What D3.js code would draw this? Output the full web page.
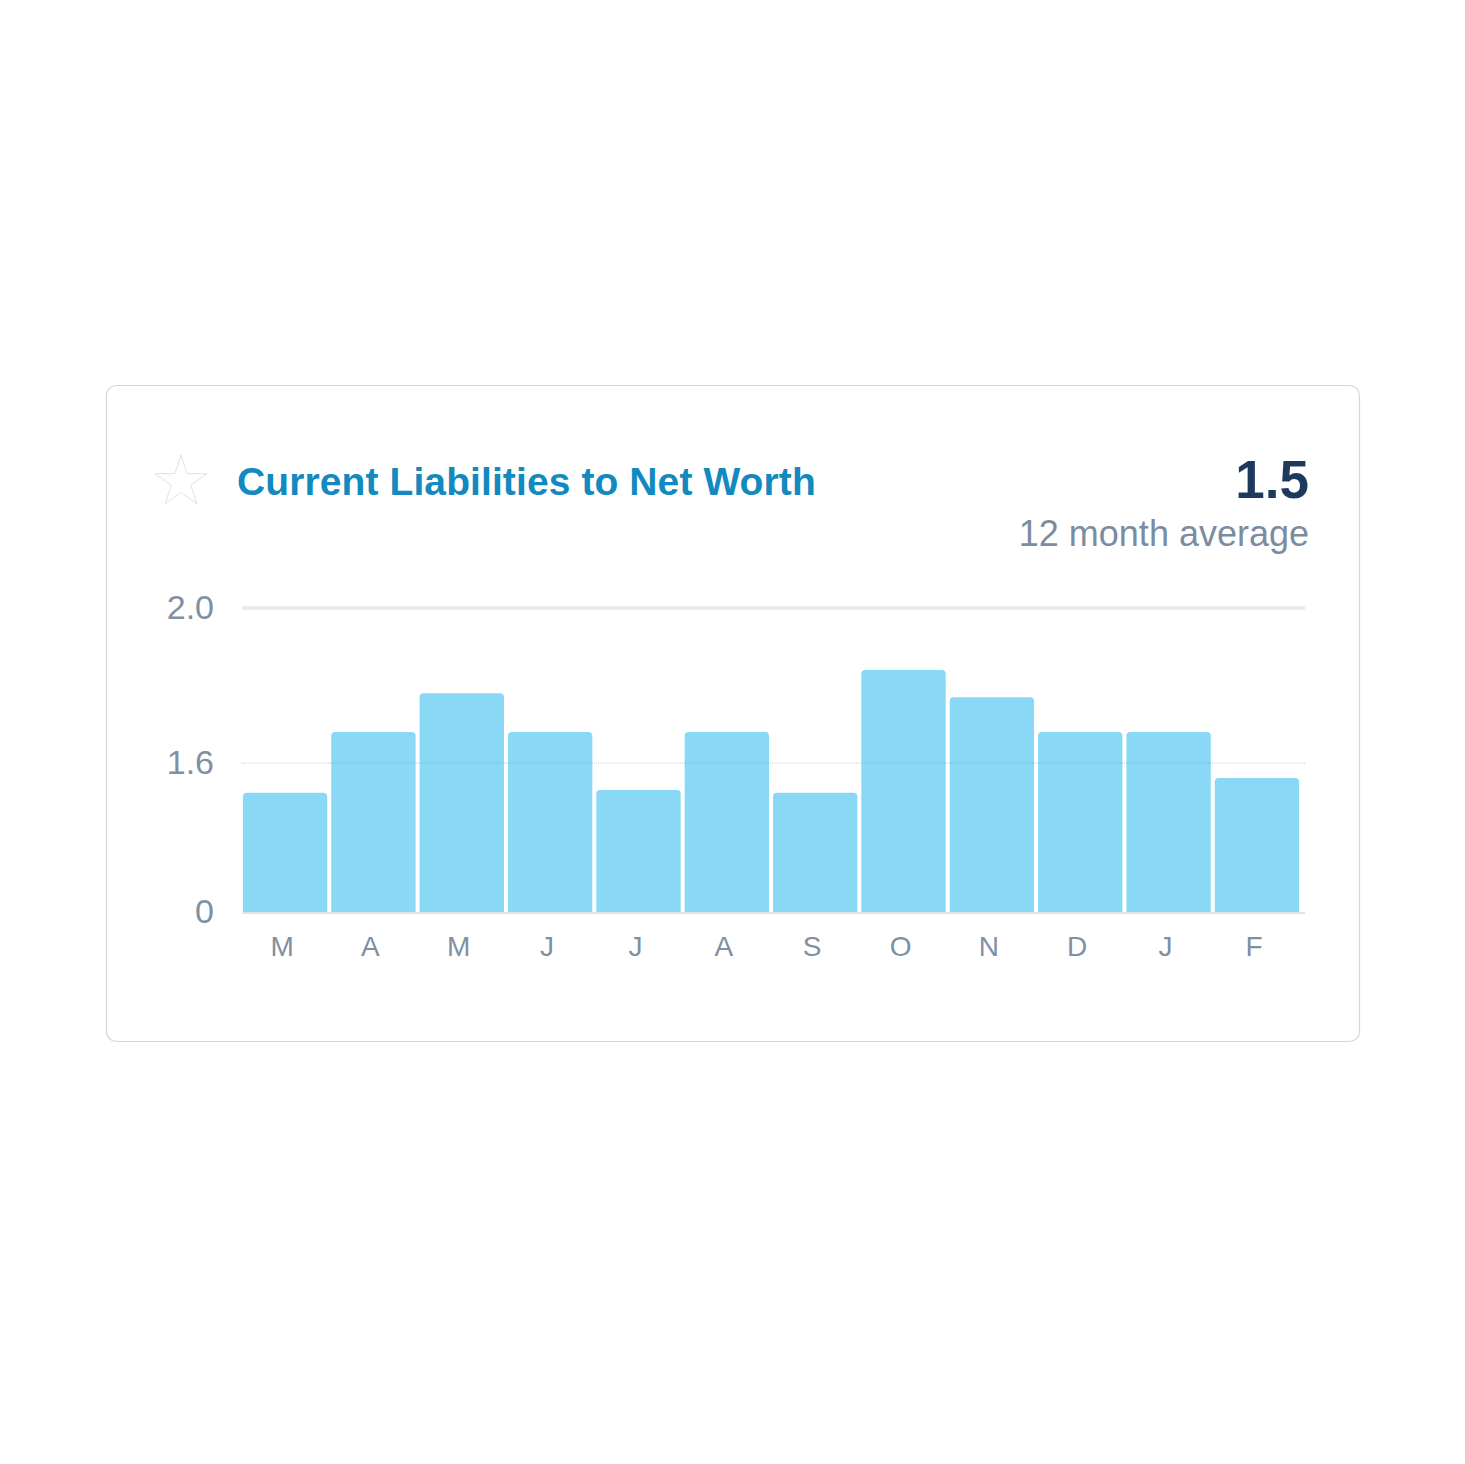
<!DOCTYPE html>
<html>
<head>
<meta charset="utf-8">
<script src="https://cdn.jsdelivr.net/npm/d3@7"></script>
<style>
  html, body { margin: 0; padding: 0; background: #fff; }
  svg { display: block; font-family: "Liberation Sans", Arial, Helvetica, sans-serif; }
</style>
</head>
<body>
<div id="chart"></div>
<script>
// Chart data.
var months = ['M', 'A', 'M', 'J', 'J', 'A', 'S', 'O', 'N', 'D', 'J', 'F'];
var values = [1.28, 1.68, 1.78, 1.68, 1.31, 1.68, 1.28, 1.84, 1.77, 1.68, 1.68, 1.44];
var yTicks = [0, 1.6, 2.0];
var yTickLabels = ['0', '1.6', '2.0'];
var title = 'Current Liabilities to Net Worth';
var average = '1.5';
var averageLabel = '12 month average';

var width = 1465, height = 1464;

var svg = d3.select('#chart').append('svg')
  .attr('width', width)
  .attr('height', height);

// Card.
svg.append('rect')
  .attr('x', 106.5).attr('y', 385.5)
  .attr('width', 1253).attr('height', 656)
  .attr('rx', 10).attr('ry', 10)
  .attr('fill', '#fff')
  .attr('stroke', '#d3d7dc')
  .attr('stroke-width', 1.2);

// Star icon (outline).
var star = d3.symbol().type(d3.symbolStar).size(820);
svg.append('path')
  .attr('d', star())
  .attr('transform', 'translate(181,482)')
  .attr('fill', 'none')
  .attr('stroke', '#dfe2e6')
  .attr('stroke-width', 1);

svg.append('text')
  .attr('x', 237).attr('y', 495)
  .attr('fill', '#1289bf')
  .attr('font-size', 39)
  .attr('font-weight', 'bold')
  .attr('letter-spacing', 0.1)
  .text(title);

svg.append('text')
  .attr('x', 1309).attr('y', 498)
  .attr('text-anchor', 'end')
  .attr('fill', '#1d3a5e')
  .attr('font-size', 53)
  .attr('font-weight', 'bold')
  .text(average);

svg.append('text')
  .attr('x', 1309).attr('y', 546)
  .attr('text-anchor', 'end')
  .attr('fill', '#7b8ca1')
  .attr('font-size', 36)
  .text(averageLabel);

// Scales. The axis is piecewise: 0 -> 1.6 and 1.6 -> 2.0 take similar space.
var x = d3.scaleBand()
  .domain(d3.range(months.length))
  .range([242, 1300])
  .paddingInner(0.045)
  .paddingOuter(0.01);

var y = d3.scaleLinear()
  .domain(yTicks)
  .range([912, 763, 608]);

var plot = svg.append('g');

// Top grid line.
plot.append('line')
  .attr('x1', 242).attr('x2', 1305)
  .attr('y1', y(2.0)).attr('y2', y(2.0))
  .attr('stroke', '#d9dcdf')
  .attr('stroke-width', 3);
plot.append('line')
  .attr('x1', 242).attr('x2', 1305)
  .attr('y1', y(2.0)).attr('y2', y(2.0))
  .attr('stroke', '#f6f7f8')
  .attr('stroke-width', 1);

// Bars with rounded top corners.
function barPath(d, i) {
  var x0 = x(i), w = x.bandwidth(), y0 = y(d), y1 = y(0), r = 4;
  return 'M' + x0 + ',' + y1 +
    'V' + (y0 + r) +
    'Q' + x0 + ',' + y0 + ' ' + (x0 + r) + ',' + y0 +
    'H' + (x0 + w - r) +
    'Q' + (x0 + w) + ',' + y0 + ' ' + (x0 + w) + ',' + (y0 + r) +
    'V' + y1 + 'Z';
}

plot.selectAll('path.bar')
  .data(values)
  .enter().append('path')
  .attr('class', 'bar')
  .attr('d', barPath)
  .attr('fill', '#89d8f6');

// Middle grid line (dotted, drawn over bars).
plot.append('line')
  .attr('x1', 242).attr('x2', 1305)
  .attr('y1', y(1.6)).attr('y2', y(1.6))
  .attr('stroke', 'rgba(120,140,160,0.22)')
  .attr('stroke-width', 2)
  .attr('stroke-dasharray', '1,1');

// Baseline.
plot.append('line')
  .attr('x1', 242).attr('x2', 1305)
  .attr('y1', y(0) + 1).attr('y2', y(0) + 1)
  .attr('stroke', 'rgba(120,150,170,0.25)')
  .attr('stroke-width', 2);

// Y axis labels.
var yAxis = d3.axisLeft(y)
  .tickValues(yTicks)
  .tickFormat(function(d, i) { return yTickLabels[i]; })
  .tickSize(0)
  .tickPadding(0);

var yAxisG = svg.append('g')
  .attr('transform', 'translate(214,0)')
  .call(yAxis);
yAxisG.select('.domain').remove();
yAxisG.selectAll('text')
  .attr('fill', '#7f8fa4')
  .attr('font-size', 34)
  .attr('font-family', '"Liberation Sans", Arial, sans-serif');

// X axis labels.
var xAxis = d3.axisBottom(x)
  .tickFormat(function(i) { return months[i]; })
  .tickSize(0)
  .tickPadding(0);

var xAxisG = svg.append('g')
  .attr('transform', 'translate(-3,936)')
  .call(xAxis);
xAxisG.select('.domain').remove();
xAxisG.selectAll('text')
  .attr('fill', '#7f8fa4')
  .attr('font-size', 28)
  .attr('font-family', '"Liberation Sans", Arial, sans-serif');
</script>
</body>
</html>
